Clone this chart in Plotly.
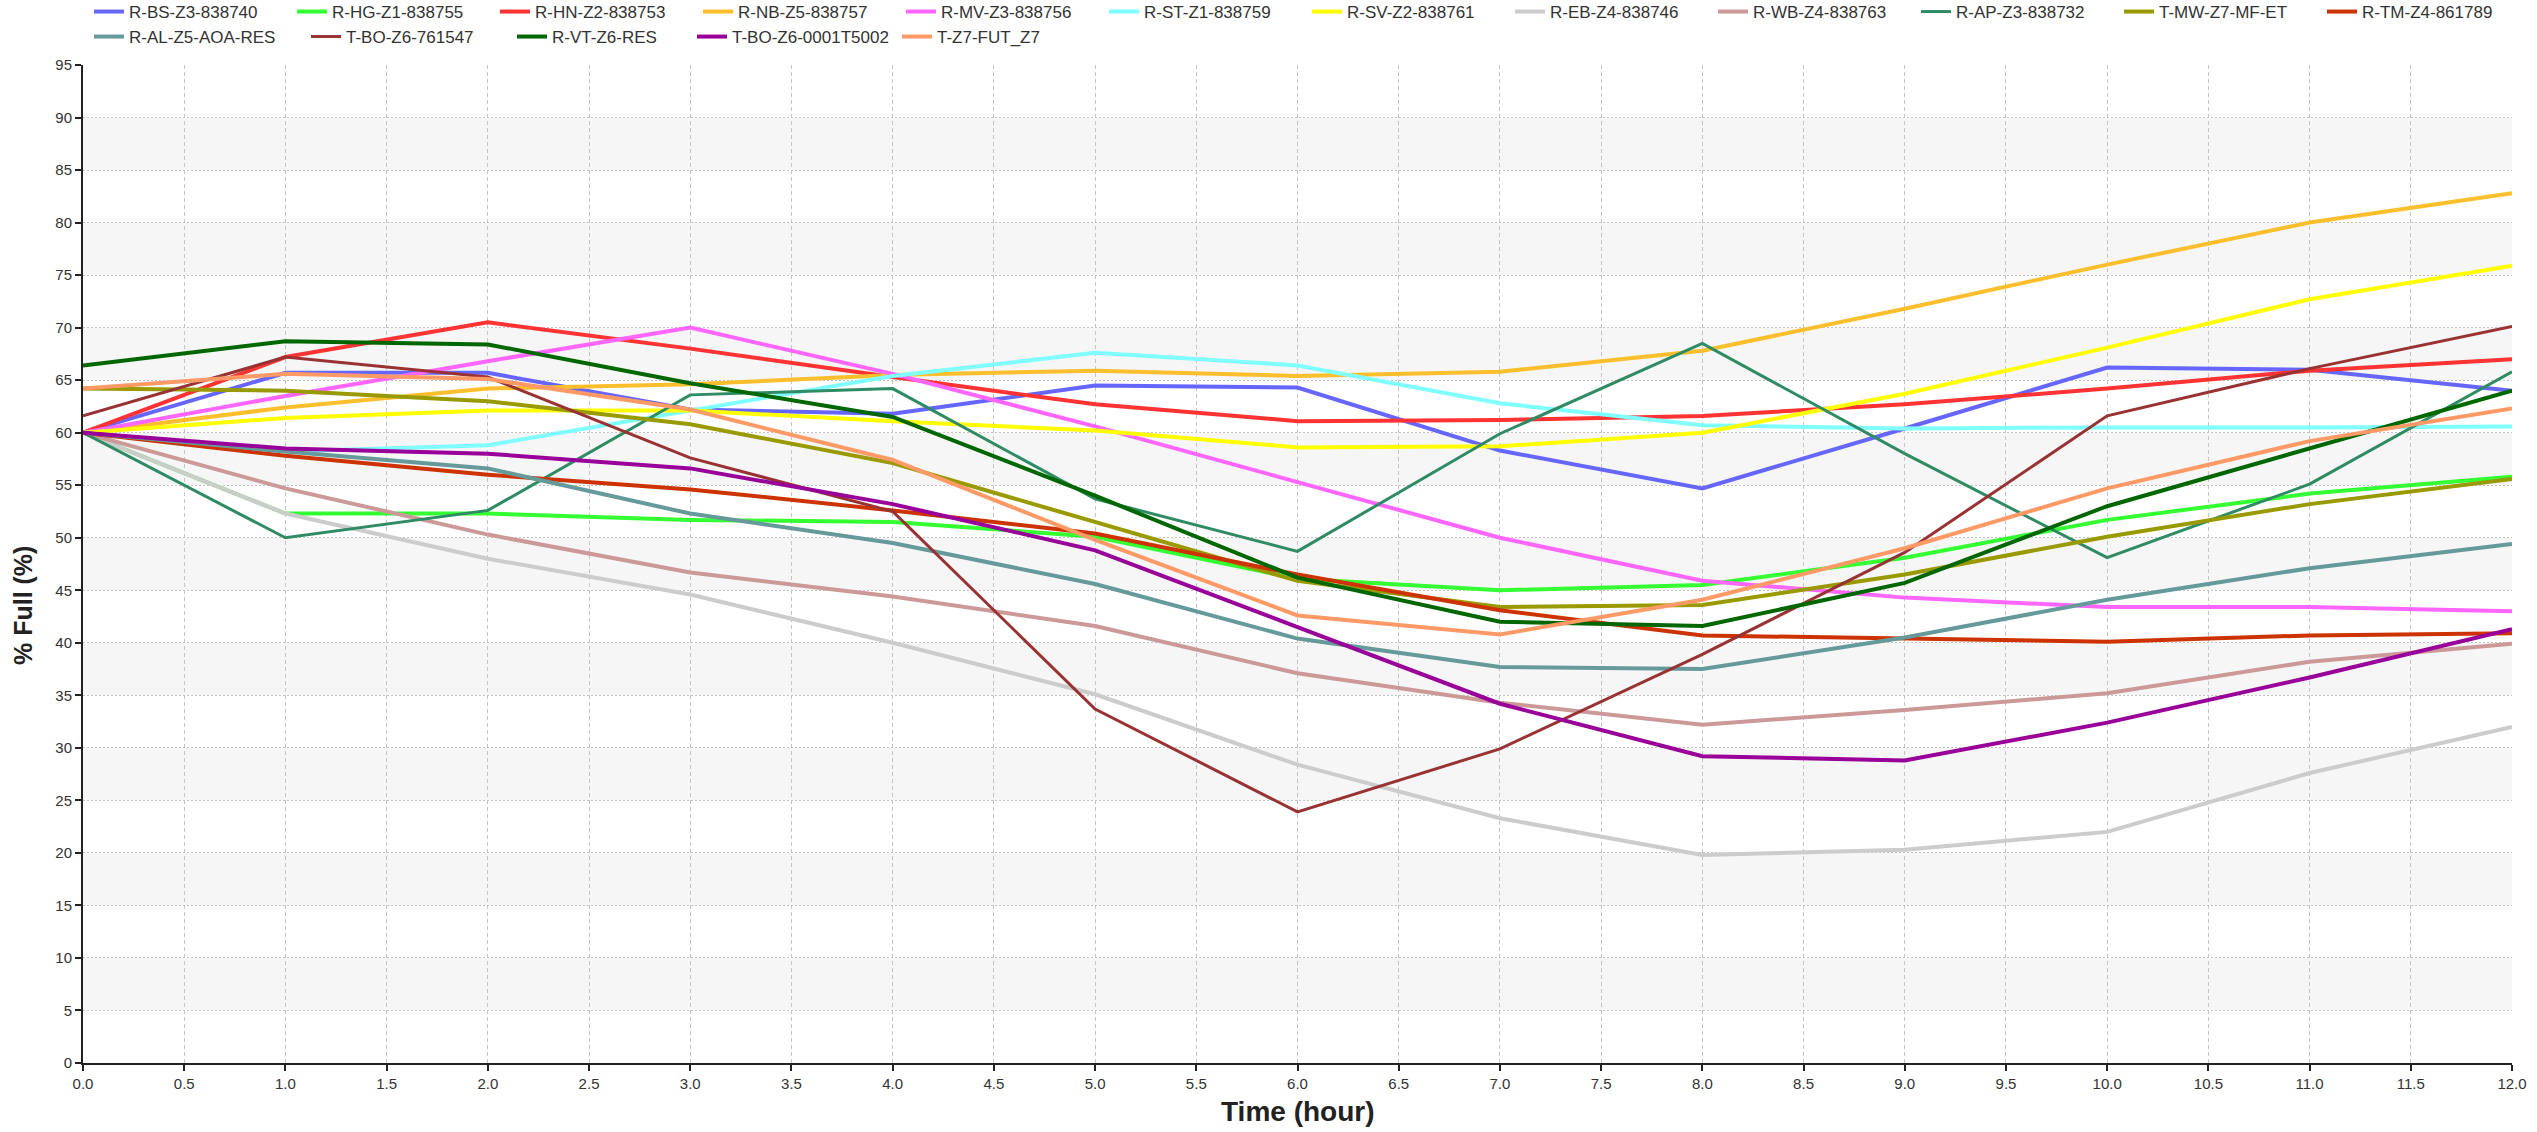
import plotly.graph_objects as go

# Hourly reservoir / tank level readings, % full
hours = [0, 1, 2, 3, 4, 5, 6, 7, 8, 9, 10, 11, 12]

r_bs_z3 = [60.0, 65.7, 65.7, 62.2, 61.8, 64.5, 64.3, 58.3, 54.7, 60.4, 66.2, 66.0, 64.0]
r_hg_z1 = [60.0, 52.3, 52.3, 51.7, 51.5, 50.1, 46.1, 45.0, 45.5, 48.1, 51.7, 54.2, 55.8]
r_hn_z2 = [60.0, 67.2, 70.5, 68.0, 65.3, 62.7, 61.1, 61.2, 61.6, 62.7, 64.2, 65.9, 67.0]
r_nb_z5 = [60.0, 62.4, 64.2, 64.6, 65.5, 65.9, 65.4, 65.8, 67.8, 71.8, 76.0, 80.0, 82.8]
r_mv_z3 = [60.0, 63.5, 66.8, 70.0, 65.6, 60.6, 55.3, 50.0, 45.9, 44.3, 43.4, 43.4, 43.0]
r_st_z1 = [60.0, 58.2, 58.8, 62.1, 65.4, 67.6, 66.4, 62.8, 60.7, 60.4, 60.5, 60.5, 60.6]
r_sv_z2 = [60.0, 61.4, 62.1, 62.1, 61.1, 60.2, 58.6, 58.7, 60.0, 63.7, 68.1, 72.7, 75.9]
r_eb_z4 = [60.0, 52.3, 48.0, 44.6, 40.0, 35.1, 28.4, 23.3, 19.8, 20.3, 22.0, 27.6, 32.0]
r_wb_z4 = [60.0, 54.7, 50.3, 46.7, 44.4, 41.6, 37.1, 34.3, 32.2, 33.6, 35.2, 38.2, 39.9]
r_ap_z3 = [60.0, 50.0, 52.6, 63.6, 64.2, 53.7, 48.7, 59.9, 68.5, 58.0, 48.1, 55.1, 65.8]
t_mw_z7 = [64.2, 64.0, 63.0, 60.8, 57.1, 51.5, 45.9, 43.4, 43.6, 46.5, 50.1, 53.2, 55.6]
r_tm_z4 = [60.0, 57.8, 56.0, 54.6, 52.6, 50.4, 46.5, 43.1, 40.7, 40.4, 40.1, 40.7, 40.9]
r_al_z5 = [60.0, 58.2, 56.6, 52.3, 49.5, 45.6, 40.4, 37.7, 37.5, 40.5, 44.1, 47.1, 49.4]
t_bo_z6_a = [61.6, 67.2, 65.3, 57.6, 52.5, 33.7, 23.9, 29.9, 38.9, 48.6, 61.6, 66.1, 70.1]
r_vt_z6 = [66.4, 68.7, 68.4, 64.7, 61.5, 54.0, 46.2, 42.0, 41.6, 45.7, 53.0, 58.5, 64.0]
t_bo_z6_b = [60.0, 58.5, 58.0, 56.6, 53.2, 48.8, 41.5, 34.2, 29.2, 28.8, 32.4, 36.7, 41.3]
t_z7_fut = [64.2, 65.6, 65.1, 62.2, 57.4, 49.8, 42.6, 40.8, 44.1, 49.0, 54.7, 59.2, 62.3]

# (name, values, colour, line width, legend, legend entry width)
series = [
    ("R-BS-Z3-838740", r_bs_z3, "#6666ff", 4, "legend", 158),
    ("R-HG-Z1-838755", r_hg_z1, "#33ff33", 4, "legend", 158),
    ("R-HN-Z2-838753", r_hn_z2, "#ff3333", 4, "legend", 158),
    ("R-NB-Z5-838757", r_nb_z5, "#fbbf2d", 4, "legend", 158),
    ("R-MV-Z3-838756", r_mv_z3, "#ff66ff", 4, "legend", 158),
    ("R-ST-Z1-838759", r_st_z1, "#80ffff", 4, "legend", 158),
    ("R-SV-Z2-838761", r_sv_z2, "#ffff00", 4, "legend", 158),
    ("R-EB-Z4-838746", r_eb_z4, "#cccccc", 4, "legend", 158),
    ("R-WB-Z4-838763", r_wb_z4, "#cc9999", 4, "legend", 158),
    ("R-AP-Z3-838732", r_ap_z3, "#2e8b63", 3, "legend", 158),
    ("T-MW-Z7-MF-ET", t_mw_z7, "#999900", 4, "legend", 158),
    ("R-TM-Z4-861789", r_tm_z4, "#cc3300", 4, "legend", 130),
    ("R-AL-Z5-AOA-RES", r_al_z5, "#669999", 4, "legend2", 172),
    ("T-BO-Z6-761547", t_bo_z6_a, "#993333", 3, "legend2", 161),
    ("R-VT-Z6-RES", r_vt_z6, "#006600", 4, "legend2", 135),
    ("T-BO-Z6-0001T5002", t_bo_z6_b, "#990099", 4, "legend2", 160),
    ("T-Z7-FUT_Z7", t_z7_fut, "#ff9966", 4, "legend2", 130),
]

# Alternating shaded bands behind the plot
band_edges = [(5, 10), (15, 20), (25, 30), (35, 40), (45, 50), (55, 60), (65, 70), (75, 80), (85, 90)]

W, H = 2537, 1132
PLOT_LEFT, PLOT_RIGHT = 83, 2512
M_TOP, M_BOTTOM = 65, 69
PLOT_H = H - M_TOP - M_BOTTOM
LEGEND_LEFT = 89
FONT = "Liberation Sans, Arial, sans-serif"


def paper_y(px_from_top):
    """Convert a pixel offset from the top of the page to paper y."""
    return (H - M_BOTTOM - px_from_top) / PLOT_H


fig = go.Figure()
for name, vals, color, width, leg, lw in series:
    fig.add_trace(go.Scatter(
        x=hours, y=vals, name=name, mode="lines",
        line=dict(color=color, width=width),
        legend=leg, legendwidth=lw,
    ))

for y0, y1 in band_edges:
    fig.add_shape(type="rect", xref="x", yref="y", x0=0, x1=12, y0=y0, y1=y1,
                  fillcolor="#f6f6f6", line_width=0, layer="below")

# Axis titles
fig.add_annotation(text="<b>Time (hour)</b>", xref="x", yref="paper", x=6, y=paper_y(1111),
                   yanchor="middle", showarrow=False, font=dict(size=28, color="#222222"))
fig.add_annotation(text="<b>% Full (%)</b>", xref="paper", yref="y", x=23 / W,
                   y=43.5, xanchor="center", yanchor="middle", textangle=-90, showarrow=False,
                   font=dict(size=25, color="#222222"))

fig.update_layout(
    width=W, height=H,
    margin=dict(l=0, r=0, t=M_TOP, b=M_BOTTOM),
    paper_bgcolor="white", plot_bgcolor="white",
    font=dict(family=FONT, size=15, color="#333333"),
    showlegend=True,
    legend=dict(
        orientation="h", xref="paper", yref="container",
        x=LEGEND_LEFT / W, xanchor="left", y=1 - 12 / H, yanchor="middle",
        font=dict(size=17, color="#333333"), bgcolor="rgba(0,0,0,0)",
    ),
    legend2=dict(
        orientation="h", xref="paper", yref="container",
        x=LEGEND_LEFT / W, xanchor="left", y=1 - 37 / H, yanchor="middle",
        font=dict(size=17, color="#333333"), bgcolor="rgba(0,0,0,0)",
    ),
    xaxis=dict(
        domain=[PLOT_LEFT / W, PLOT_RIGHT / W],
        range=[0, 12], dtick=0.5, tick0=0, tickformat=".1f",
        showgrid=True, gridcolor="#c4c4c4", griddash="4px,3px", gridwidth=1,
        showline=True, linecolor="#222222", linewidth=2,
        ticks="outside", ticklen=6, tickwidth=2, tickcolor="#222222",
        tickfont=dict(size=15, color="#333333"),
        zeroline=False, automargin=False,
    ),
    yaxis=dict(
        range=[0, 95], dtick=5, tick0=0,
        showgrid=True, gridcolor="#c4c4c4", griddash="2px,2px", gridwidth=1,
        showline=True, linecolor="#222222", linewidth=2,
        ticks="outside", ticklen=6, tickwidth=2, tickcolor="#222222",
        tickfont=dict(size=15, color="#333333"),
        zeroline=False, automargin=False,
    ),
)

fig.write_html("out.html")
